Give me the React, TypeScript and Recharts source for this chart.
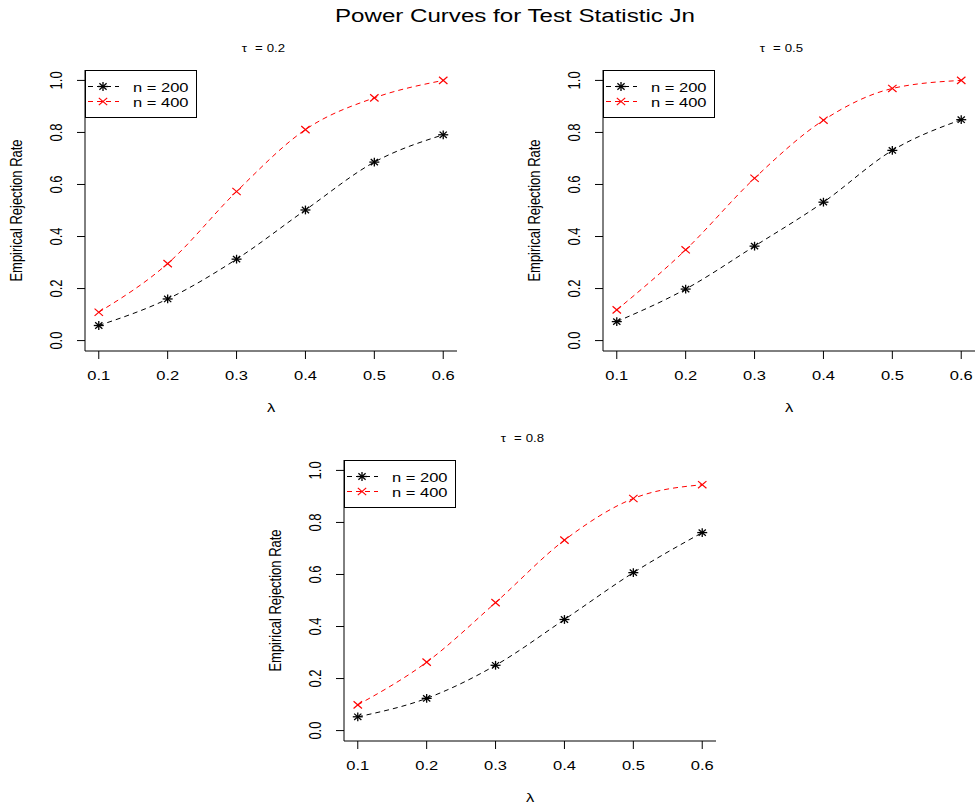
import React from 'react';
import { LineChart, Line, XAxis, YAxis, Legend } from 'recharts';

// lambda grid shared by every panel
const lambdas = [0.1, 0.2, 0.3, 0.4, 0.5, 0.6];
const xTicks = [0.1, 0.2, 0.3, 0.4, 0.5, 0.6];
const yTicks = [0, 0.2, 0.4, 0.6, 0.8, 1.0];

// empirical rejection rates per tau
const tau02n200 = [0.058, 0.16, 0.313, 0.502, 0.686, 0.791];
const tau02n400 = [0.109, 0.296, 0.573, 0.811, 0.933, 1.0];
const tau05n200 = [0.073, 0.198, 0.363, 0.532, 0.731, 0.849];
const tau05n400 = [0.118, 0.349, 0.624, 0.847, 0.969, 1.0];
const tau08n200 = [0.053, 0.124, 0.251, 0.427, 0.607, 0.761];
const tau08n400 = [0.099, 0.263, 0.492, 0.732, 0.892, 0.945];

const FONT = '"Liberation Sans", Arial, Helvetica, sans-serif';
// text is drawn a little wider than its height
const SX = 1.27;

const toRows = (a: number[], b: number[]) =>
  lambdas.map((l, i) => ({ lambda: l, n200: a[i], n400: b[i] }));

// pch = 8 style asterisk
const Star = (props: any) => {
  const { cx, cy, index } = props;
  const rx = 5;
  const ry = 4.4;
  const dx = rx * 0.72;
  const dy = ry * 0.72;
  return (
    <g key={`s${index}`} stroke="#000" strokeWidth={1.3}>
      <line x1={cx - rx} y1={cy} x2={cx + rx} y2={cy} />
      <line x1={cx} y1={cy - ry} x2={cx} y2={cy + ry} />
      <line x1={cx - dx} y1={cy - dy} x2={cx + dx} y2={cy + dy} />
      <line x1={cx - dx} y1={cy + dy} x2={cx + dx} y2={cy - dy} />
    </g>
  );
};

// pch = 4 style cross
const Cross = (props: any) => {
  const { cx, cy, index } = props;
  const rx = 4.2;
  const ry = 3.6;
  return (
    <g key={`c${index}`} stroke="#ff0000" strokeWidth={1.2}>
      <line x1={cx - rx} y1={cy - ry} x2={cx + rx} y2={cy + ry} />
      <line x1={cx - rx} y1={cy + ry} x2={cx + rx} y2={cy - ry} />
    </g>
  );
};

// horizontally stretched text, optionally rotated
const SText = ({ x, y, size, rotate = 0, anchor = 'middle', children }: any) => (
  <g transform={`translate(${x}, ${y}) scale(${SX}, 1) rotate(${rotate})`}>
    <text x={0} y={0} textAnchor={anchor} fontSize={size} fill="#000" fontFamily={FONT}>
      {children}
    </text>
  </g>
);

const XTick = (props: any) => {
  const { x, y, payload } = props;
  return <SText x={x} y={y + 19} size={13}>{payload.value.toFixed(1)}</SText>;
};

const YTick = (props: any) => {
  const { x, y, payload } = props;
  return <SText x={x - 13} y={y} size={13} rotate={-90}>{payload.value.toFixed(1)}</SText>;
};

const XTitle = (props: any) => {
  const { viewBox } = props;
  return <SText x={viewBox.x + viewBox.width / 2} y={viewBox.y + 61} size={13}>λ</SText>;
};

const YTitle = (props: any) => {
  const { viewBox } = props;
  return (
    <SText x={viewBox.x + viewBox.width - 63} y={viewBox.y + viewBox.height / 2} size={13} rotate={-90}>
      Empirical Rejection Rate
    </SText>
  );
};

// boxed legend in the top-left corner of the plot
const LegendBox = (props: any) => {
  const items = props.payload || [];
  return (
    <svg width={112} height={48} style={{ display: 'block' }}>
      <rect x={0.5} y={0.5} width={111} height={47} fill="#fff" stroke="#000" strokeWidth={1} />
      {items.map((it: any, i: number) => {
        const y = 16.5 + i * 15;
        const red = it.dataKey === 'n400';
        return (
          <g key={it.value}>
            <line x1={3} y1={y} x2={34} y2={y} stroke={it.color} strokeDasharray="5 4" />
            {red ? <Cross cx={18} cy={y} index={i} /> : <Star cx={18} cy={y} index={i} />}
            <SText x={48} y={y + 5} size={13} anchor="start">{it.value}</SText>
          </g>
        );
      })}
    </svg>
  );
};

// tau = value, spaced like a plotmath relation
const TauTitle = ({ cx, tau }: any) => (
  <svg style={{ position: 'absolute', left: 0, top: 0 }} width={cx * 2} height={60}>
    <g transform={`translate(${cx - 29.3}, 52.3) scale(${SX}, 1)`}>
      <text fontSize={10.4} fill="#000" fontFamily={FONT}>
        <tspan x={0}>τ</tspan>
        <tspan x={10.5}>=</tspan>
        <tspan x={19.7}>{tau}</tspan>
      </text>
    </g>
  </svg>
);

const Panel = ({ left, top, width, marginRight, tau, a, b }: any) => {
  const data = toRows(a, b);
  return (
    <div style={{ position: 'absolute', left, top, width, height: 417 }}>
      <TauTitle cx={85 + 186} tau={tau} />
      <LineChart width={width} height={417} data={data} margin={{ top: 70, right: marginRight, bottom: 6, left: 0 }}>
        <XAxis
          dataKey="lambda"
          type="number"
          domain={[0.08, 0.62]}
          ticks={xTicks}
          interval={0}
          height={60}
          tickSize={8}
          tickMargin={2}
          tick={<XTick />}
          axisLine={{ stroke: '#000' }}
          tickLine={{ stroke: '#000' }}
          label={<XTitle />}
        />
        <XAxis xAxisId="top" orientation="top" dataKey="lambda" type="number" domain={[0.08, 0.62]} height={0} tick={false} tickLine={false} axisLine={{ stroke: '#000' }} />
        <YAxis
          type="number"
          domain={[-0.04, 1.04]}
          ticks={yTicks}
          interval={0}
          width={85}
          tickSize={8}
          tickMargin={2}
          tick={<YTick />}
          axisLine={{ stroke: '#000' }}
          tickLine={{ stroke: '#000' }}
          label={<YTitle />}
        />
        <YAxis yAxisId="right" orientation="right" domain={[-0.04, 1.04]} width={0} tick={false} tickLine={false} axisLine={{ stroke: '#000' }} />
        <Legend
          layout="vertical"
          align="center"
          verticalAlign="middle"
          content={<LegendBox />}
          wrapperStyle={{ left: 85, top: 70, width: 112, height: 48 }}
        />
        <Line type="monotone" dataKey="n200" name="n = 200" stroke="#000" strokeWidth={1} strokeDasharray="5 4" dot={<Star />} isAnimationActive={false} />
        <Line type="monotone" dataKey="n400" name="n = 400" stroke="#ff0000" strokeWidth={1} strokeDasharray="5 4" dot={<Cross />} isAnimationActive={false} />
      </LineChart>
    </div>
  );
};

export default function App() {
  return (
    <div style={{ position: 'absolute', left: 0, top: 0, width: 978, height: 807, background: '#fff', fontFamily: FONT, overflow: 'hidden' }}>
      <svg style={{ position: 'absolute', left: 0, top: 0 }} width={978} height={30}>
        <SText x={515} y={21.7} size={19}>Power Curves for Test Statistic Jn</SText>
      </svg>
      <Panel left={0} top={0} width={489} marginRight={32} tau="0.2" a={tau02n200} b={tau02n400} />
      <Panel left={518} top={0} width={460} marginRight={3} tau="0.5" a={tau05n200} b={tau05n400} />
      <Panel left={259} top={390} width={489} marginRight={32} tau="0.8" a={tau08n200} b={tau08n400} />
    </div>
  );
}
